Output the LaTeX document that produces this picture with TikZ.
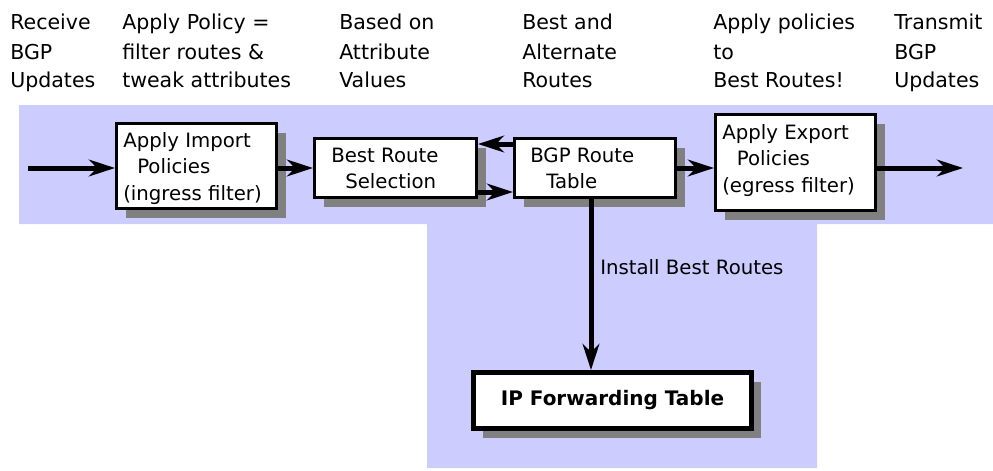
\documentclass[tikz,border=0pt]{standalone}
\usepackage{fontspec}
\setmainfont{DejaVu Sans}
\usetikzlibrary{arrows.meta,shadows}
\definecolor{bandblue}{HTML}{CCCCFF}
\definecolor{shadegray}{HTML}{808080}
\begin{document}
\begin{tikzpicture}[x=0.75pt,y=-0.75pt,
  hdr/.style={anchor=base west, inner sep=0pt, font=\fontsize{15.4pt}{21.75pt}\selectfont},
  btxt/.style={anchor=base west, inner sep=0pt, font=\fontsize{14.8pt}{19.9pt}\selectfont},
  boxshape/.style={draw=black, line width=2.25pt, fill=white, inner sep=0pt,
    drop shadow={shadow xshift=6.75pt, shadow yshift=-6.75pt, fill=shadegray, opacity=1}},
  arr/.style={line width=3.75pt, -{Stealth[length=19.5pt,width=12.5pt,inset=6pt]}}]
\useasboundingbox (0,0) rectangle (993,471);
% background band
\fill[bandblue] (19,105) -- (993,105) -- (993,224) -- (817,224) -- (817,468)
  -- (427,468) -- (427,224) -- (19,224) -- cycle;
% headers
\node[hdr] (h1) at (10,30) {\begin{tabular}[t]{@{}l@{}}Receive\\BGP\\Updates\end{tabular}};
\node[hdr] (h2) at (122,30) {\begin{tabular}[t]{@{}l@{}}Apply Policy =\\filter routes \&\\tweak attributes\end{tabular}};
\node[hdr] (h3) at (339,30) {\begin{tabular}[t]{@{}l@{}}Based on\\Attribute\\Values\end{tabular}};
\node[hdr] (h4) at (522,30) {\begin{tabular}[t]{@{}l@{}}Best and\\Alternate\\Routes\end{tabular}};
\node[hdr] (h5) at (713,30) {\begin{tabular}[t]{@{}l@{}}Apply policies\\to\\Best Routes!\end{tabular}};
\node[hdr] (h6) at (894,30) {\begin{tabular}[t]{@{}l@{}}Transmit\\BGP\\Updates\end{tabular}};
% boxes
\node[boxshape, minimum width=120pt, minimum height=63.75pt] (imp) at (196.5,166) {};
\node[boxshape, minimum width=121.5pt, minimum height=44.25pt] (brs) at (395.5,168) {};
\node[boxshape, minimum width=120.75pt, minimum height=44.25pt] (bgp) at (595,168) {};
\node[boxshape, minimum width=120pt, minimum height=72pt] (exp) at (795.5,162.5) {};
\node[boxshape, line width=3.75pt, minimum width=208.5pt, minimum height=42pt,
  font=\fontsize{15pt}{18pt}\selectfont\bfseries] (ipf) at (612.5,400.5) {IP Forwarding Table};
% box texts
\node[btxt] (impt) at (123,147) {\begin{tabular}[t]{@{}l@{}}Apply Import\\\hspace{10.5pt}Policies\\(ingress filter)\end{tabular}};
\node[btxt] (brst) at (331,162) {\begin{tabular}[t]{@{}l@{}}Best Route\\\hspace{10.5pt}Selection\end{tabular}};
\node[btxt] (bgpt) at (530,162) {\begin{tabular}[t]{@{}l@{}}BGP Route\\\hspace{12pt}Table\end{tabular}};
\node[btxt] (expt) at (722,139) {\begin{tabular}[t]{@{}l@{}}Apply Export\\\hspace{11pt}Policies\\(egress filter)\end{tabular}};
\node[btxt] (lbl) at (600,274) {Install Best Routes};
% connector coordinates
\coordinate (in) at (28,168);
\coordinate (out) at (963,168);
\coordinate (mid) at (0,168);
\coordinate (up) at (0,144);
\coordinate (lo) at (0,192);
\coordinate (dn) at (591,0);
% connectors
\draw[arr] (in) -- (imp.west |- in);
\draw[arr] (imp.east |- mid) -- (brs.west |- mid);
\draw[arr] (bgp.west |- up) -- (brs.east |- up);
\draw[arr] (brs.east |- lo) -- (bgp.west |- lo);
\draw[arr] (bgp.east |- mid) -- (exp.west |- mid);
\draw[arr] (exp.east |- mid) -- (out);
\draw[arr] (bgp.south -| dn) -- (ipf.north -| dn);
\end{tikzpicture}
\end{document}
